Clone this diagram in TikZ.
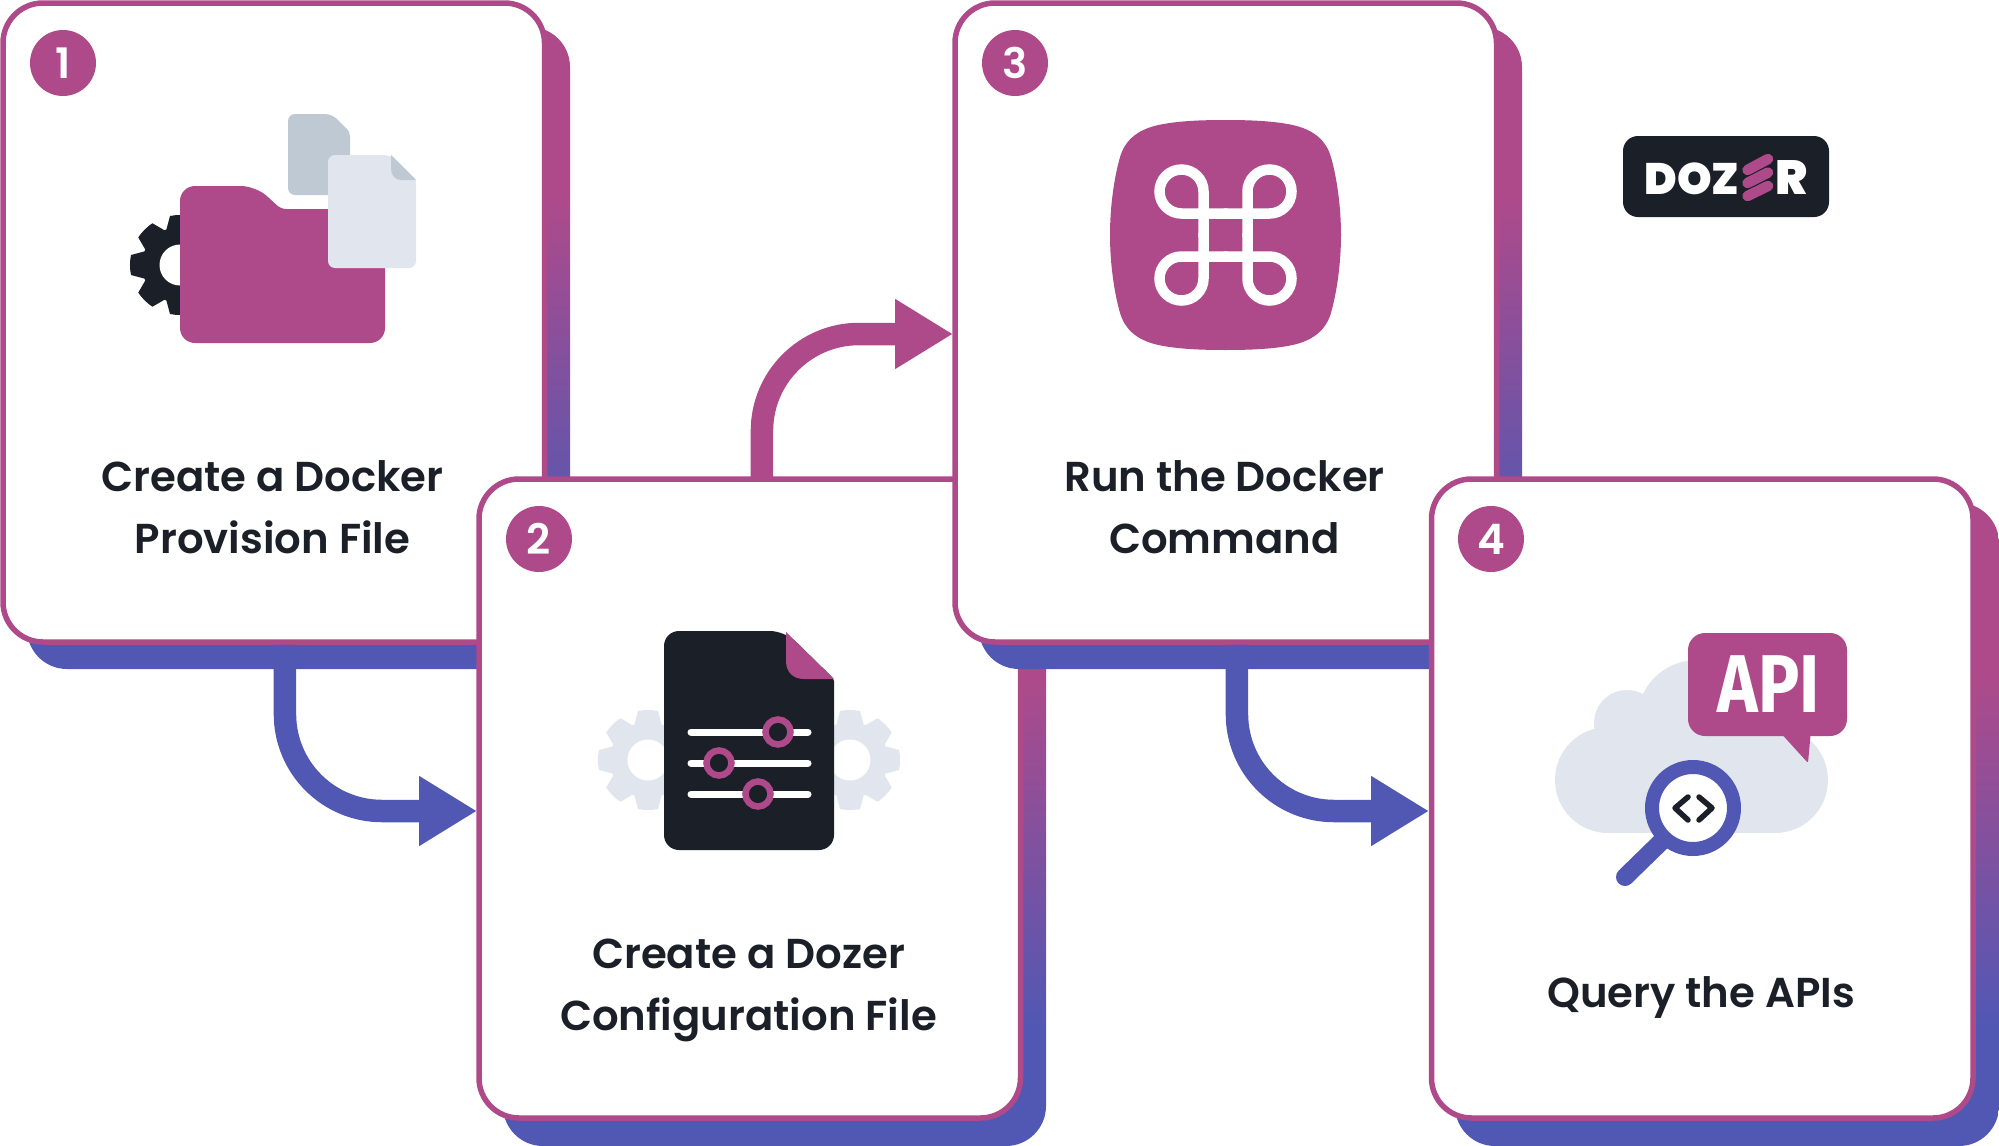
\documentclass[tikz,border=0pt]{standalone}
\usepackage{fontspec}
\setmainfont{Poppins SemiBold}
\newfontfamily\logofont{Poppins Black}
\newfontfamily\apifont{Fira Sans Bold}
\usetikzlibrary{arrows.meta,calc}
\definecolor{dozermagenta}{RGB}{175,74,138}
\definecolor{dozerblue}{RGB}{80,88,180}
\definecolor{dozerdark}{RGB}{27,31,39}
\definecolor{dozerlight}{RGB}{225,230,238}
\definecolor{dozergrey}{RGB}{191,201,211}
\pgfdeclareverticalshading{shadowfade}{100bp}{color(0bp)=(dozerblue); color(34bp)=(dozerblue); color(62bp)=(dozermagenta); color(100bp)=(dozermagenta)}
\tikzset{
	card/.style={draw=dozermagenta, fill=white, line width=2.75pt, rounded corners=20pt, minimum width=270.75pt, minimum height=319.5pt, inner sep=0pt, outer sep=0pt},
	cardshadow/.style={shading=shadowfade, rounded corners=20pt},
	badge/.style={circle, fill=dozermagenta, text=white, minimum size=33pt, inner sep=0pt, font=\fontsize{21}{21}\selectfont},
	title/.style={text=dozerdark, align=center, inner sep=0pt, font=\fontsize{20.9}{31}\selectfont},
	flow/.style={line width=11.25pt, rounded corners=48.5pt, -{Triangle[width=33pt,length=29pt]}},
	slider/.style={white, line width=3.5pt, line cap=round},
	knob/.style={draw=dozermagenta, fill=dozerdark, line width=3.25pt},
	cmdline/.style={white, line width=5.25pt},
	chevron/.style={dozerdark, line width=2.75pt, line cap=round, line join=round},
	logobar/.style={dozermagenta, line width=5.25pt, line cap=round},
	gearwheel/.pic={
		\foreach \a in {0,45,...,315}
			\fill[rotate=\a] (34,-14) -- (49,-10) to[bend left=10] (49,10) -- (34,14) -- cycle;
		\fill circle (38);
		\fill[white] circle (20.5);
	}
}
\begin{document}
\begin{tikzpicture}[x=0.5pt,y=-0.5pt]
	\useasboundingbox (0,0) rectangle (1999,1146);

	% card 1
	\shade[cardshadow] (27,27) rectangle (570,669);
	\node[card] (card1) at (273.75,322.5) {};
	\node[badge] (badge1) at (63,63) {1};
	\node[title] (title1) at (272.5,507) {Create a Docker\\Provision File};
	\pic[dozerdark] at (180,265) {gearwheel};
	\fill[dozermagenta] (180,260) [rounded corners=7.5pt] -- (180,186) -- (256,186) [rounded corners=2.5pt] -- (281,209) -- (320,209) [rounded corners=7.5pt] -- (385,209) -- (385,343) -- (180,343) -- cycle;
	\fill[dozergrey] (288,150) [rounded corners=3.5pt] -- (288,114) -- (332,114) [rounded corners=2pt] -- (350,132) -- (350,150) [rounded corners=3.5pt] -- (350,195) -- (288,195) -- cycle;
	\fill[dozerlight] (328,200) [rounded corners=3.5pt] -- (328,155) -- (391,155) [rounded corners=1pt] -- (416,180) -- (416,200) [rounded corners=3.5pt] -- (416,268) -- (328,268) -- cycle;
	\fill[dozergrey] (391,155) -- (416,180) -- (401,180) .. controls (395,180) and (391,175) .. (391,169) -- cycle;

	\coordinate (in2) at (477,811);
	\draw[flow, dozerblue] ([shift={(5.6pt,-1.4pt)}]card1.south) |- (in2);

	% card 2
	\shade[cardshadow] (503,503) rectangle (1046,1146);
	\node[card] (card2) at (749.75,798.5) {};
	\node[badge] (badge2) at (539,539) {2};
	\node[title] (title2) at (748.5,990) {Create a Dozer\\Configuration File};
	\pic[dozerlight] at (648,760) {gearwheel};
	\pic[dozerlight] at (850,760) {gearwheel};
	\fill[dozerdark] (664,700) [rounded corners=7.5pt] -- (664,631) -- (785,631) [rounded corners=1pt] -- (834,679) -- (834,700) [rounded corners=7.5pt] -- (834,850) -- (664,850) -- cycle;
	\fill[dozermagenta] (786,632) -- (834,679) -- (804,679) .. controls (793,679) and (786,672) .. (786,661) -- cycle;
	\foreach \ypos/\xpos in {732/778,763/719,794/758} {
		\draw[slider] (691,\ypos) -- (808,\ypos);
		\draw[knob] (\xpos,\ypos) circle (12.5);
	}

	\coordinate (in3) at (953,334);
	\draw[flow, dozermagenta] ([xshift=6.1pt]card2.north) |- (in3);

	% card 3
	\shade[cardshadow] (979,27) rectangle (1522,669);
	\node[card] (card3) at (1225.75,322.5) {};
	\node[badge] (badge3) at (1015,63) {3};
	\node[title] (title3) at (1224.5,507) {Run the Docker\\Command};
	\fill[dozermagenta, shift={(1225.5,235)}] (0,-115) .. controls (25,-115) and (45,-114) .. (62,-111) .. controls (86,-107) and (101,-96) .. (106,-76) .. controls (111,-58) and (115.5,-30) .. (115.5,0)
		.. controls (115.5,30) and (111,58) .. (106,76) .. controls (101,96) and (86,107) .. (62,111) .. controls (45,114) and (25,115) .. (0,115)
		.. controls (-25,115) and (-45,114) .. (-62,111) .. controls (-86,107) and (-101,96) .. (-106,76) .. controls (-111,58) and (-115.5,30) .. (-115.5,0)
		.. controls (-115.5,-30) and (-111,-58) .. (-106,-76) .. controls (-101,-96) and (-86,-107) .. (-62,-111) .. controls (-45,-114) and (-25,-115) .. (0,-115) -- cycle;
	\foreach \sx/\sy in {1/1,-1/1,1/-1,-1/-1}
		\draw[cmdline, shift={(1225.5,235)}, xscale=\sx, yscale=\sy] (22,2) -- (22,-43.5) arc[start angle=180, end angle=450, radius=22] -- (-2,-21.5);

	\coordinate (in4) at (1429,811);
	\draw[flow, dozerblue] ([shift={(5.6pt,-1.4pt)}]card3.south) |- (in4);

	% card 4
	\shade[cardshadow] (1455,503) rectangle (1999,1146);
	\node[card] (card4) at (1702.25,798.5) {};
	\node[badge] (badge4) at (1491,539) {4};
	\node[title] (title4) at (1701,997) {Query the APIs};
	\fill[dozerlight] (1608,780) circle (53);
	\fill[dozerlight] (1627,723) circle (33);
	\fill[dozerlight] (1697,720) circle (60);
	\fill[dozerlight] (1775,780) circle (53);
	\fill[dozerlight] (1608,720) rectangle (1775,833);
	\fill[dozermagenta, rounded corners=8.5pt] (1688,633) rectangle (1847,736);
	\fill[dozermagenta, rounded corners=1pt] (1778,730) -- (1808,763) -- (1811,730) -- cycle;
	\node[text=white, inner sep=0pt, xscale=0.84, font=\apifont\fontsize{41}{41}\selectfont] (apitext) at (1768.5,684) {API};
	\draw[dozerblue, line width=9pt, line cap=round] (1665,838) -- (1625,877);
	\draw[dozerblue, fill=white, line width=7pt] (1693,808) circle (41);
	\draw[chevron] (1688,797) -- (1675,808) -- (1688,820);
	\draw[chevron] (1699,797) -- (1712,808) -- (1699,820);

	% logo
	\fill[dozerdark, rounded corners=7.5pt] (1623,136) rectangle (1829,217);
	\node[text=white, inner sep=0pt, anchor=base east, font=\logofont\fontsize{22}{22}\selectfont] (logoleft) at (1740,194) {DOZ};
	\node[text=white, inner sep=0pt, anchor=base west, font=\logofont\fontsize{24}{24}\selectfont] (logoright) at (1775,194) {R};
	\draw[logobar] (1747.5,170) -- (1768,159);
	\draw[logobar] (1747.5,183) -- (1768,172.5);
	\draw[logobar] (1747.5,196) -- (1768,186);
\end{tikzpicture}
\end{document}
